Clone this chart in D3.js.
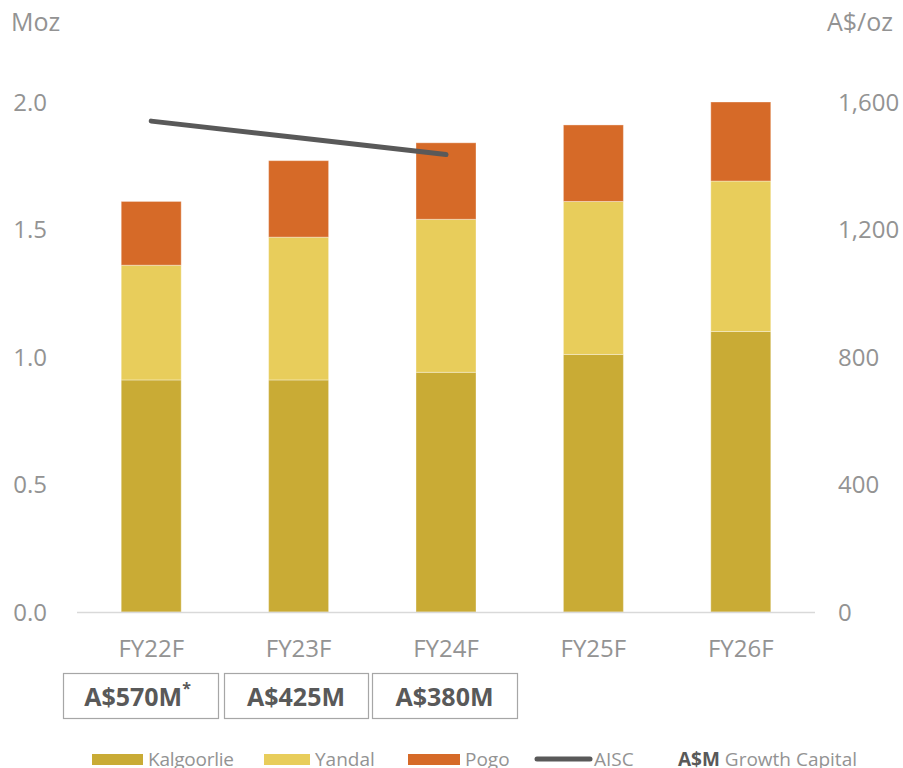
<!DOCTYPE html>
<html>
<head>
<meta charset="utf-8">
<script src="https://cdn.jsdelivr.net/npm/d3@7"></script>
<style>
  html, body { margin: 0; padding: 0; background: #fff; }
  svg { display: block; font-family: "Open Sans", "Noto Sans", sans-serif; }
</style>
</head>
<body>
<svg id="chart" width="903" height="768"></svg>
<script>
// Production outlook by operation (Moz) with AISC (A$/oz)
const years = ["FY22F", "FY23F", "FY24F", "FY25F", "FY26F"];
const kalgoorlie = [0.91, 0.91, 0.94, 1.01, 1.10];
const yandal = [0.45, 0.56, 0.60, 0.60, 0.59];
const pogo = [0.25, 0.30, 0.30, 0.30, 0.31];
const aiscYears = ["FY22F", "FY23F", "FY24F"];
const aisc = [1540, 1488, 1435];
const growthCapital = ["A$570M", "A$425M", "A$380M"];
const growthNote = ["*", "", ""];
const leftTicks = [0, 0.5, 1.0, 1.5, 2.0];
const rightTicks = [0, 400, 800, 1200, 1600];

const seriesNames = ["Kalgoorlie", "Yandal", "Pogo"];
const colors = { Kalgoorlie: "#c9ab35", Yandal: "#e8cd5b", Pogo: "#d66a28" };
const lineColor = "#595959";
const textGray = "#939393";

const svg = d3.select("#chart");

const x = d3.scaleBand().domain(years).range([77, 815]).paddingInner(0.593).paddingOuter(0.3);
const yL = d3.scaleLinear().domain([0, 2]).range([612, 102]);
const yR = d3.scaleLinear().domain([0, 1600]).range([612, 102]);

// Stack the three operations
const rows = years.map((yr, i) => ({ year: yr, Kalgoorlie: kalgoorlie[i], Yandal: yandal[i], Pogo: pogo[i] }));
const stacked = d3.stack().keys(seriesNames)(rows);

svg.append("g").selectAll("g")
  .data(stacked)
  .join("g")
  .attr("fill", d => colors[d.key])
  .selectAll("rect")
  .data(d => d)
  .join("rect")
  .attr("x", d => x(d.data.year))
  .attr("width", x.bandwidth())
  .attr("y", d => yL(d[1]))
  .attr("height", d => yL(d[0]) - yL(d[1]))
  .attr("stroke", "#fff")
  .attr("stroke-opacity", 0.35)
  .attr("stroke-width", 1);

// Baseline
svg.append("line")
  .attr("x1", 77).attr("x2", 815)
  .attr("y1", yL(0) + 0.5).attr("y2", yL(0) + 0.5)
  .attr("stroke", "#d9d9d9").attr("stroke-width", 1.5);

// AISC line
const line = d3.line()
  .x((d, i) => x(aiscYears[i]) + x.bandwidth() / 2)
  .y(d => yR(d));
svg.append("path")
  .datum(aisc)
  .attr("d", line)
  .attr("fill", "none")
  .attr("stroke", lineColor)
  .attr("stroke-width", 5)
  .attr("stroke-linecap", "round");

// Left axis labels
svg.append("g").selectAll("text")
  .data(leftTicks)
  .join("text")
  .attr("x", 47)
  .attr("y", d => yL(d))
  .attr("dy", "0.36em")
  .attr("text-anchor", "end")
  .attr("fill", textGray)
  .attr("font-size", 24)
  .text(d => d3.format(".1f")(d));

// Right axis labels
svg.append("g").selectAll("text")
  .data(rightTicks)
  .join("text")
  .attr("x", 838)
  .attr("y", d => yR(d))
  .attr("dy", "0.36em")
  .attr("text-anchor", "start")
  .attr("fill", textGray)
  .attr("font-size", 24)
  .text(d => d3.format(",")(d));

// Axis titles
svg.append("text").attr("x", 11).attr("y", 31)
  .attr("fill", textGray).attr("font-size", 25).text("Moz");
svg.append("text").attr("x", 893).attr("y", 31).attr("text-anchor", "end")
  .attr("fill", textGray).attr("font-size", 25).text("A$/oz");

// Category labels
svg.append("g").selectAll("text")
  .data(years)
  .join("text")
  .attr("x", d => x(d) + x.bandwidth() / 2)
  .attr("y", 648)
  .attr("dy", "0.36em")
  .attr("text-anchor", "middle")
  .attr("fill", textGray)
  .attr("font-size", 24)
  .text(d => d);

// Growth capital boxes under the first three years
const boxes = [[63, 218], [224, 368], [372, 517]];
const bg = svg.append("g").selectAll("g")
  .data(growthCapital)
  .join("g");
bg.append("rect")
  .attr("x", (d, i) => boxes[i][0] + 0.5)
  .attr("y", 673.5)
  .attr("width", (d, i) => boxes[i][1] - boxes[i][0])
  .attr("height", 45)
  .attr("fill", "#fff")
  .attr("stroke", "#a6a6a6")
  .attr("stroke-width", 1.2);
const bt = bg.append("text")
  .attr("x", (d, i) => (boxes[i][0] + boxes[i][1]) / 2 + (growthNote[i] ? -3 : 0))
  .attr("y", 697)
  .attr("dy", "0.36em")
  .attr("text-anchor", "middle")
  .attr("fill", "#595959")
  .attr("font-size", 25)
  .attr("font-weight", "bold")
  .text(d => d);
bt.append("tspan")
  .attr("font-size", 16)
  .attr("dy", "-0.75em")
  .text((d, i) => growthNote[i]);

// Legend
const lg = svg.append("g").attr("font-size", 19).attr("fill", textGray);
const legendItems = [
  { name: "Kalgoorlie", x0: 92, x1: 143, tx: 148 },
  { name: "Yandal", x0: 264, x1: 310, tx: 315 },
  { name: "Pogo", x0: 408, x1: 460, tx: 465 }
];
legendItems.forEach(it => {
  lg.append("rect").attr("x", it.x0).attr("y", 754).attr("width", it.x1 - it.x0).attr("height", 11)
    .attr("fill", colors[it.name]);
  lg.append("text").attr("x", it.tx).attr("y", 766).attr("textLength", it.name === "Kalgoorlie" ? 86 : null).text(it.name);
});
lg.append("line").attr("x1", 537).attr("x2", 590).attr("y1", 759).attr("y2", 759)
  .attr("stroke", lineColor).attr("stroke-width", 5).attr("stroke-linecap", "round");
lg.append("text").attr("x", 594).attr("y", 766).text("AISC");
const gc = lg.append("text").attr("x", 678).attr("y", 766);
gc.append("tspan").attr("font-weight", "bold").attr("fill", "#595959").text("A$M");
gc.append("tspan").text(" Growth Capital");
</script>
</body>
</html>
